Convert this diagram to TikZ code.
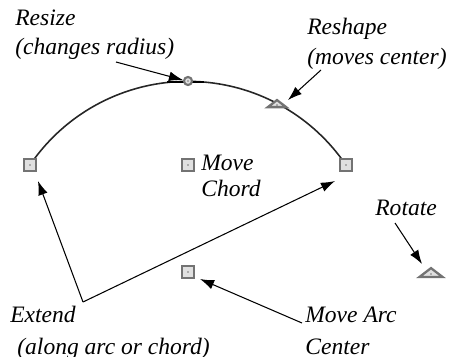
\documentclass[tikz,border=0pt]{standalone}
\usepackage{fontspec}
\setmainfont{Liberation Serif}
\usetikzlibrary{arrows.meta,positioning,shapes.geometric}
\definecolor{handleedge}{gray}{0.45}
\definecolor{handlefill}{gray}{0.88}
\tikzset{
  lbl/.style={anchor=base west,inner sep=0pt,font=\fontsize{13.4pt}{15pt}\itshape},
  pointer/.style={line width=.6pt,-{Latex[length=8pt,width=5.5pt]}},
  squarehandle/.style={draw=handleedge,fill=handlefill,line width=1.5pt,minimum size=7pt,inner sep=0pt,rectangle},
  roundhandle/.style={draw=handleedge,fill=handlefill,line width=1.2pt,minimum size=4.6pt,inner sep=0pt,circle},
  trihandle/.style={draw=handleedge,fill=handlefill,line width=1.3pt,inner sep=0pt,isosceles triangle,isosceles triangle apex angle=105,shape border rotate=90,minimum height=4pt,minimum width=9pt}
}
\begin{document}
\begin{tikzpicture}[x=0.02cm,y=-0.02cm]
\useasboundingbox (0,0) rectangle (449,356);
% arc and its handles
\coordinate (c0) at (188,272);
\draw[line width=.9pt,black!85] (30,165) arc[start angle=214.2,end angle=325.8,radius=191];
\draw[line width=1.2pt] (167,82)--(204,82);
\node[squarehandle] (endl) at (30,165) {};
\node[squarehandle] (endr) at (346,165) {};
\node[squarehandle] (chord) at (188,165) {};
\node[squarehandle] (center) at (c0) {};
\node[roundhandle] (mid) at (188,81) {};
\node[trihandle] (shape) at (277,104) {};
\node[trihandle,minimum width=11pt,minimum height=5pt] (turn) at (431,273) {};
\foreach \h in {endl,endr,chord,center,mid}{\fill (\h.center) circle (.35pt);}
\fill (277,105) circle (.35pt);
\fill (431,274) circle (.35pt);
% labels
\node[lbl] (resize) at (15,25) {Resize};
\node[lbl] (radius) at (15,54) {(changes radius)};
\node[lbl] (reshape) at (307,34) {Reshape};
\node[lbl] (moves) at (307,64) {(moves center)};
\node[lbl] (move) at (201,170) {Move};
\node[lbl] (chordtxt) at (201,196) {Chord};
\node[lbl] (rotate) at (375,215) {Rotate};
\node[lbl] (extend) at (10,322) {Extend};
\node[lbl] (along) at (17,354) {(along arc or chord)};
\node[lbl] (movearc) at (305,322) {Move Arc};
\node[lbl] (centertxt) at (305,354) {Center};
% pointers
\coordinate (fork) at (83,302);
\coordinate (r0) at (116,62);
\coordinate (s0) at (321,70);
\coordinate (t0) at (395,223);
\coordinate (a0) at (302,323);
\draw[pointer] (r0)--(183,80);
\draw[pointer] (s0)--(288,100);
\draw[pointer] (fork)--(38,181);
\draw[pointer] (fork)--(335,181);
\draw[pointer] (t0)--(422,264);
\draw[pointer] (a0)--(200,279);
\end{tikzpicture}
\end{document}
